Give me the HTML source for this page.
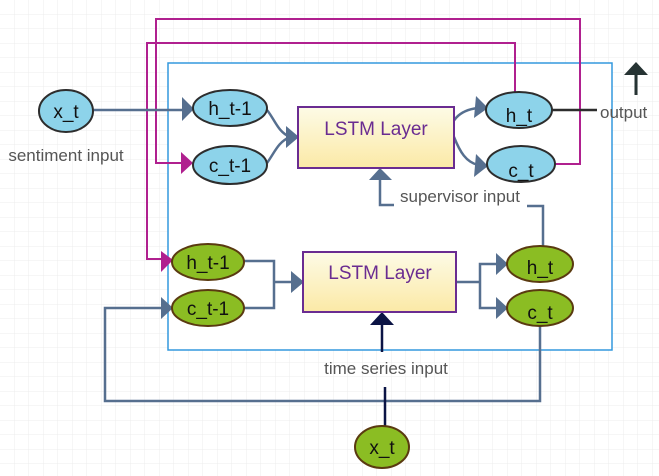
<!DOCTYPE html>
<html><head><meta charset="utf-8"><style>
html,body{margin:0;padding:0;background:#fff}
svg{display:block}
text{font-family:"Liberation Sans",sans-serif}
</style></head><body>
<svg width="659" height="476" viewBox="0 0 659 476" xmlns="http://www.w3.org/2000/svg">
<defs>
<pattern id="g" width="14.5" height="14.5" patternUnits="userSpaceOnUse">
<path d="M14.5 0V14.5M0 14.5H14.5" stroke="#ececec" stroke-width="1" fill="none"/>
</pattern>
<linearGradient id="lg" x1="0" y1="0" x2="0" y2="1"><stop offset="0" stop-color="#fdfbe6"/><stop offset="1" stop-color="#fbe9a6"/></linearGradient>
</defs>
<rect width="659" height="476" fill="url(#g)"/>
<rect x="168" y="63" width="444" height="287" fill="#fff" stroke="#3399dd" stroke-width="1.5"/>
<g stroke="#b0208f" stroke-width="2" fill="none">
<path d="M555 164H580V19H156V163H184"/>
<path d="M515 92V43H147V259H164"/>
</g>
<polygon points="181,152 193,163 181,174" fill="#b0208f"/>
<polygon points="161,251 173,260 161,272" fill="#b0208f"/>
<g stroke="#566f8f" stroke-width="2.5" fill="none">
<path d="M94 110H184"/>
<path d="M267 110C275 120 278 132 290 137"/>
<path d="M267 163C275 152 278 142 290 137"/>
<path d="M478 108C460 110 446 122 454 137C460 152 466 162 478 165"/>
<path d="M380 178V205H394M527 206H543V250"/>
<path d="M244 261H274V308H244M274 282H294"/>
<path d="M456 282H480V264H497M480 282V308H497"/>
<path d="M540 326V401H105V308H164"/>
</g>
<g fill="#566f8f">
<polygon points="182,97 194,109 182,121"/>
<polygon points="286,126 299,137 286,148"/>
<polygon points="476,96 488,108 474,118"/>
<polygon points="476,154 488,166 474,177"/>
<polygon points="369,180 380,168 392,180"/>
<polygon points="291,271 304,282 291,293"/>
<polygon points="496,253 508,264 496,275"/>
<polygon points="496,297 508,308 496,319"/>
<polygon points="161,297 173,308 161,319"/>
</g>
<path d="M382 324V352M385 387V427" stroke="#0b1445" stroke-width="2.5"/>
<polygon points="370,325 382,312 394,325" fill="#0b1445"/>
<path d="M552 110H597" stroke="#2d2d2d" stroke-width="2.5"/>
<path d="M636 95V72" stroke="#263333" stroke-width="3"/>
<polygon points="624,75 636,62 648,75" fill="#263333"/>
<rect x="298" y="107" width="156" height="61" fill="url(#lg)" stroke="#6a2c91" stroke-width="2"/>
<text x="376" y="135" text-anchor="middle" font-size="19" fill="#6a2c91">LSTM Layer</text>
<rect x="303" y="252" width="153" height="60" fill="url(#lg)" stroke="#6a2c91" stroke-width="2"/>
<text x="380" y="279" text-anchor="middle" font-size="19" fill="#6a2c91">LSTM Layer</text>
<g fill="#8dd3ea" stroke="#2d2d2d" stroke-width="2">
<ellipse cx="66" cy="111" rx="27" ry="21"/>
<ellipse cx="230" cy="108" rx="37" ry="18"/>
<ellipse cx="230" cy="165" rx="37" ry="19"/>
<ellipse cx="519" cy="110" rx="33" ry="18"/>
<ellipse cx="521" cy="164" rx="34" ry="18"/>
</g>
<g fill="#8bbd23" stroke="#5a3a10" stroke-width="2">
<ellipse cx="208" cy="262" rx="36" ry="18"/>
<ellipse cx="208" cy="308" rx="36" ry="18"/>
<ellipse cx="540" cy="264" rx="33" ry="18"/>
<ellipse cx="540" cy="308" rx="33" ry="18"/>
<ellipse cx="382" cy="447" rx="27" ry="21"/>
</g>
<g font-size="19" fill="#111" text-anchor="middle">
<text x="66" y="118">x_t</text>
<text x="230" y="115">h_t-1</text>
<text x="230" y="172">c_t-1</text>
<text x="519" y="122">h_t</text>
<text x="521" y="177">c_t</text>
<text x="208" y="269">h_t-1</text>
<text x="208" y="315">c_t-1</text>
<text x="540" y="274">h_t</text>
<text x="540" y="319">c_t</text>
<text x="382" y="454">x_t</text>
</g>
<g font-size="17" fill="#555">
<text x="66" y="161" text-anchor="middle">sentiment input</text>
<text x="460" y="202" text-anchor="middle">supervisor input</text>
<text x="386" y="374" text-anchor="middle">time series input</text>
<text x="600" y="118">output</text>
</g>
</svg>
</body></html>
